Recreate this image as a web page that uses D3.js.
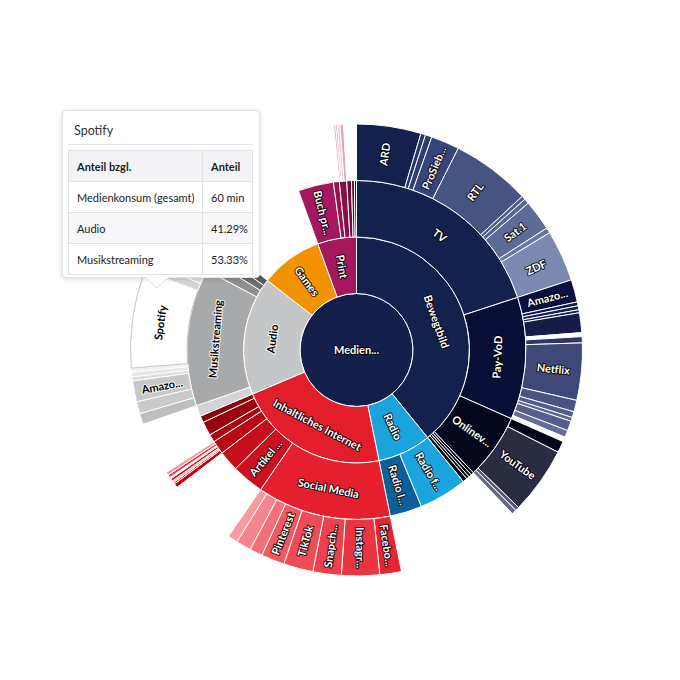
<!DOCTYPE html>
<html>
<head>
<meta charset="utf-8">
<script src="https://cdn.jsdelivr.net/npm/d3@7"></script>
<style>
  body { margin: 0; background: #fff; }
  #chart { position: relative; width: 680px; height: 680px; font-family: Lato, "Noto Sans", sans-serif; }
  .lbl { font-size: 11px; font-weight: bold; paint-order: stroke; stroke-linejoin: round; stroke-width: 2px; }
  .tip { position: absolute; background: #fff; border: 1px solid #e3e3e3; border-radius: 4px;
         box-shadow: 0 1px 5px rgba(0,0,0,0.16); font-size: 11px; color: #222; }
  .tip .title { position: absolute; left: 11px; top: 12px; font-size: 12.5px; color: #333; }
  .tip .rule { position: absolute; left: 5px; right: 6px; top: 33px; border-top: 1px solid #e4e4e4; }
  .tip table { position: absolute; left: 5px; top: 39px; width: 185px; border-collapse: collapse; table-layout: fixed; }
  .tip td, .tip th { border: 1px solid #e2e2e2; height: 30px; padding: 0 0 0 8px; text-align: left; white-space: nowrap; }
  .tip th { background: #f3f3f7; font-weight: bold; }
  .tip tr.stripe td { background: #f7f7f9; }
</style>
</head>
<body>
<div id="chart"></div>
<script>
// Medienkonsum in Minuten, Blätter je Elternknoten
const gesamt = "Medienkonsum (gesamt)";
const kategorien = ["Bewegtbild", "Radio", "Inhaltliches Internet", "Audio", "Games", "Print"];
const gamesMinuten = 76.2;

const bewegtbildTeile = ["TV", "Pay-VoD", "Onlinevideo", "Mediatheken", "Live-Streams", "IPTV", "Sonstiges Video"];
const bewegtbildMinuten = [null, null, null, 2.4, 2.4, 2.4, 3.6];

const tvSender = ["ARD", "ARD One", "tagesschau24", "ProSieben", "RTL", "VOX", "RTLZWEI", "Sat.1", "kabel eins", "ZDF"];
const tvMinuten = [39.5, 2.9, 4.0, 17.4, 48.6, 2.4, 3.1, 18.8, 3.3, 31.4];

const payVodDienste = ["Amazon Prime Video", "Disney+", "Sky", "DAZN", "WOW", "keine Angabe", "Paramount+",
  "Netflix", "Apple TV+", "RTL+", "Joyn Plus", "MagentaTV", "Sonstige VoD", "ohne Zuordnung"];
const payVodMinuten = [13.8, 2.4, 2.4, 1.9, 12.1, 2.4, 3.8, 35.0, 7.1, 3.6, 2.4, 6.0, 4.3, 2.9];

const onlinevideoDienste = ["Twitch", "YouTube", "Vimeo", "Dailymotion"];
const onlinevideoMinuten = [7.1, 41.2, 2.4, 2.9];

const radioArten = ["Radio frei empfangbar", "Radio live im Netz"];
const radioMinuten = [39.5, 26.2];

const internetTeile = ["Social Media", "Artikel / Nachrichten", "Blogs", "Foren", "Wikis", "Ratgeber", "Newsletter"];
const internetMinuten = [null, 26.4, 16.7, null, 6.4, 11.4, 5.5];

const socialMedia = ["Facebook", "Instagram", "Snapchat", "TikTok", "Pinterest", "X", "LinkedIn", "Xing"];
const socialMediaMinuten = [13.3, 23.3, 17.4, 18.1, 14.3, 7.9, 9.3, 6.0];

const forenSeiten = ["Reddit", "gutefrage", "Quora", "Stack Overflow", "Forum (sonstige)", "ComputerBase", "Motor-Talk"];
const forenMinuten = [2.6, 1.0, 1.2, 1.6, 1.0, 1.8, 2.0];

const audioTeile = ["Hörbücher", "Musikstreaming", "Podcasts", "CD / Vinyl", "Hörspiele"];
const audioMinuten = [9.0, null, 9.0, 7.4, 7.4];

const musikDienste = ["Deezer", "YouTube Music", "Amazon Music", "Napster", "SoundCloud", "Tidal",
  "Spotify", "Apple Music", "Qobuz", "Sonstige Musik"];
const musikMinuten = [6.7, 7.4, 12.9, 2.4, 2.9, 2.4, 60.0, 6.0, 6.0, 5.8];

const printTeile = ["Buch print/E-Book", "Zeitung", "Zeitschrift", "Magazine", "Comics", "Prospekte"];
const printMinuten = [29.0, 4.8, null, 3.8, 2.4, 1.7];

const zeitschriften = ["Stern", "Spiegel", "Focus", "Bunte"];
const zeitschriftMinuten = [1.3, 1.0, 1.6, 2.1];

// gekürzte Beschriftungen, wie sie im Diagramm stehen
const kurzNamen = {
  "Medienkonsum (gesamt)": "Medien...", "ProSieben": "ProSieb...", "Amazon Prime Video": "Amazo...",
  "Amazon Music": "Amazo...", "Onlinevideo": "Onlinev...", "Radio frei empfangbar": "Radio f...",
  "Radio live im Netz": "Radio l...", "Artikel / Nachrichten": "Artikel ...", "Buch print/E-Book": "Buch pr...",
  "Facebook": "Facebo...", "Instagram": "Instagr...", "Snapchat": "Snapch..."
};

const tooltipZeilen = ["Medienkonsum (gesamt)", "Audio", "Musikstreaming"];
const tooltipWerte = ["60 min", "41.29%", "53.33%"];

// Farben
const farbe = {
  "Medienkonsum (gesamt)": "#12204b",
  "Bewegtbild": "#13224d", "TV": "#13224d", "ARD": "#13224d", "ARD One": "#26366a", "tagesschau24": "#2d3e72",
  "ProSieben": "#34457a", "RTL": "#45557f", "VOX": "#4d5d88", "RTLZWEI": "#56668f", "Sat.1": "#5c6c96",
  "kabel eins": "#6877a1", "ZDF": "#7b89b1",
  "Pay-VoD": "#090e36", "Amazon Prime Video": "#0b1140", "Disney+": "#121a4c", "Sky": "#161e52", "DAZN": "#1a2256",
  "WOW": "#151c4a", "keine Angabe": "#ffffff", "Paramount+": "#2d3562", "Netflix": "#3f4876", "Apple TV+": "#4a5382",
  "RTL+": "#535c8a", "Joyn Plus": "#5d6692", "MagentaTV": "#545d8b", "Sonstige VoD": "#646d98", "ohne Zuordnung": "#ffffff",
  "Onlinevideo": "#05081c", "Twitch": "#04061a", "YouTube": "#2a2c42", "Vimeo": "#555972", "Dailymotion": "#666a84",
  "Mediatheken": "#05060f", "Live-Streams": "#0a0b16", "IPTV": "#05060f", "Sonstiges Video": "#0a0b16",
  "Radio": "#1ba3dd", "Radio frei empfangbar": "#1aa5df", "Radio live im Netz": "#0d5f99",
  "Inhaltliches Internet": "#e31e2b", "Social Media": "#e51f2d", "Facebook": "#e62432", "Instagram": "#ea3440",
  "Snapchat": "#ec404c", "TikTok": "#ee4c57", "Pinterest": "#f05862", "X": "#f3707a", "LinkedIn": "#f6848c", "Xing": "#f89aa0",
  "Artikel / Nachrichten": "#cc1220", "Blogs": "#c60e1b", "Foren": "#b80914", "Wikis": "#a80610", "Ratgeber": "#98030d", "Newsletter": "#88020a",
  "Reddit": "#c3000f", "gutefrage": "#e31d2b", "Quora": "#f7a8b0", "Stack Overflow": "#d4101f", "Forum (sonstige)": "#ffffff",
  "ComputerBase": "#ea3a48", "Motor-Talk": "#f59aa4",
  "Audio": "#c5c6c8", "Hörbücher": "#d2d3d5", "Musikstreaming": "#a8a9ab", "Podcasts": "#8e8f91", "CD / Vinyl": "#6f7072", "Hörspiele": "#58595b",
  "Deezer": "#bdbec0", "YouTube Music": "#c9cacc", "Amazon Music": "#c7c8ca", "Napster": "#dcdcdd", "SoundCloud": "#e7e7e8",
  "Tidal": "#f0f0f0", "Spotify": "#ffffff", "Apple Music": "#d6d6d6", "Qobuz": "#dedede", "Sonstige Musik": "#e6e6e6",
  "Games": "#f39200",
  "Print": "#a5185e", "Buch print/E-Book": "#a5185e", "Zeitung": "#941351", "Zeitschrift": "#841047", "Magazine": "#740c3e",
  "Comics": "#640834", "Prospekte": "#55062c",
  "Stern": "#e7b0c6", "Spiegel": "#d48aa9", "Focus": "#f0cedb", "Bunte": "#e3a4bd"
};

function blaetter(namen, minuten, unter) {
  return namen.map((n, i) => unter && unter[n] ? { name: n, children: unter[n] } : { name: n, value: minuten[i] });
}

const daten = {
  name: gesamt,
  children: blaetter(kategorien, kategorien.map(k => k === "Games" ? gamesMinuten : null), {
    "Bewegtbild": blaetter(bewegtbildTeile, bewegtbildMinuten, {
      "TV": blaetter(tvSender, tvMinuten),
      "Pay-VoD": blaetter(payVodDienste, payVodMinuten),
      "Onlinevideo": blaetter(onlinevideoDienste, onlinevideoMinuten)
    }),
    "Radio": blaetter(radioArten, radioMinuten),
    "Inhaltliches Internet": blaetter(internetTeile, internetMinuten, {
      "Social Media": blaetter(socialMedia, socialMediaMinuten),
      "Foren": blaetter(forenSeiten, forenMinuten)
    }),
    "Audio": blaetter(audioTeile, audioMinuten, {
      "Musikstreaming": blaetter(musikDienste, musikMinuten)
    }),
    "Print": blaetter(printTeile, printMinuten, {
      "Zeitschrift": blaetter(zeitschriften, zeitschriftMinuten)
    })
  })
};

const cx = 356.5, cy = 350;
const root = d3.hierarchy(daten).sum(d => d.value || 0);
d3.partition().size([2 * Math.PI, 4])(root);

const r = d3.scaleLinear().domain([0, 4]).range([0, 226]);
const arc = d3.arc()
  .startAngle(d => d.x0).endAngle(d => d.x1)
  .innerRadius(d => r(d.y0)).outerRadius(d => r(d.y1));

const svg = d3.select("#chart").append("svg")
  .attr("width", 680).attr("height", 680)
  .style("position", "absolute").style("left", 0).style("top", 0);
const g = svg.append("g").attr("transform", `translate(${cx},${cy})`);

g.selectAll("path")
  .data(root.descendants())
  .join("path")
  .attr("d", d => d.depth === 0 ? d3.arc()({ innerRadius: 0, outerRadius: r(1), startAngle: 0, endAngle: 2 * Math.PI }) : arc(d))
  .attr("fill", d => farbe[d.data.name] || "#ccc")
  .attr("stroke", d => d.data.name === "Spotify" ? "#c4c4c4" : "#fff")
  .attr("stroke-width", 1);

// Kontrastfarbe wie bei Highcharts
function kontrast(c) {
  const k = d3.rgb(c);
  return k.r + 1.2 * k.g + 0.5 * k.b > 440 ? "#000" : "#fff";
}

const toDeg = 180 / Math.PI;
root.descendants().forEach(d => {
  let x = 0, y = 0, rot = 0;
  if (d.depth > 0) {
    const a = (d.x0 + d.x1) / 2;
    const rm = r((d.y0 + d.y1) / 2);
    const arcLen = (d.x1 - d.x0) * rm;
    const thick = r(d.y1) - r(d.y0);
    x = Math.sin(a) * rm;
    y = -Math.cos(a) * rm;
    const deg = a * toDeg;
    if (arcLen > 1.4 * thick) {
      // entlang des Bogens
      rot = deg;
      if (deg > 90 && deg < 270) rot -= 180;
      else if (deg >= 270) rot -= 360;
    } else {
      // entlang des Radius, nur wenn genug Platz
      if (arcLen < 18) return;
      rot = deg - 90;
      if (rot > 90) rot -= 180;
    }
  }
  const fill = farbe[d.data.name] || "#ccc";
  const txtCol = kontrast(fill);
  g.append("text")
    .attr("class", "lbl")
    .attr("transform", `translate(${x},${y}) rotate(${rot})`)
    .attr("text-anchor", "middle")
    .attr("dy", "0.35em")
    .attr("fill", txtCol)
    .attr("stroke", txtCol === "#fff" ? "rgba(0,0,0,0.85)" : "rgba(255,255,255,0.9)")
    .text(kurzNamen[d.data.name] || d.data.name);
});

// Tooltip für Spotify
const tip = d3.select("#chart").append("div").attr("class", "tip")
  .style("left", "62px").style("top", "110px").style("width", "196px").style("height", "166px");
tip.append("div").attr("class", "title").text("Spotify");
tip.append("div").attr("class", "rule");
const tab = tip.append("table");
const kopf = tab.append("tr");
kopf.append("th").style("width", "125px").text("Anteil bzgl.");
kopf.append("th").text("Anteil");
tooltipZeilen.forEach((z, i) => {
  const tr = tab.append("tr").classed("stripe", i === 1);
  tr.append("td").text(z);
  tr.append("td").text(tooltipWerte[i]);
});
// Spitze
const spitze = d3.select("#chart").append("svg")
  .attr("width", 30).attr("height", 16)
  .style("position", "absolute").style("left", "143px").style("top", "274px");
spitze.append("path").attr("d", "M1,2 L14,2 L27,2 L14,14 Z").attr("fill", "#fff");
spitze.append("path").attr("d", "M2,3 L14,14 L26,3").attr("fill", "none").attr("stroke", "#ddd");
</script>
</body>
</html>
